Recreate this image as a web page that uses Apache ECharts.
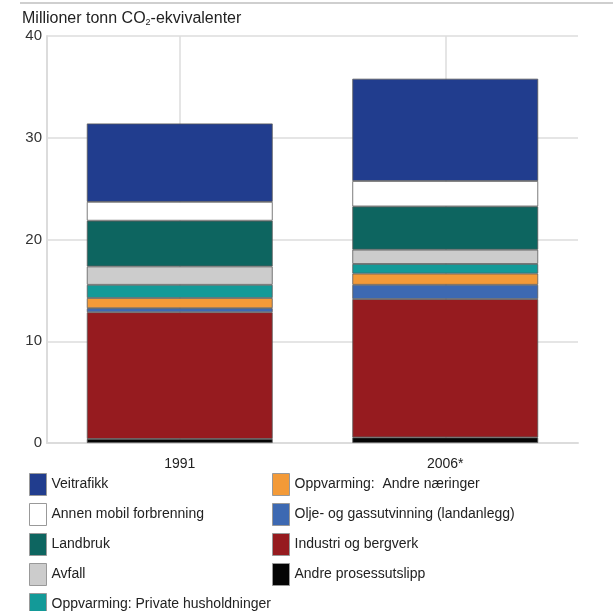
<!DOCTYPE html>
<html>
<head>
<meta charset="utf-8">
<script src="https://cdn.jsdelivr.net/npm/echarts@6/dist/echarts.min.js"></script>
<style>
  html, body { margin: 0; padding: 0; background: #fff; }
  #chart { width: 613px; height: 611px; }
</style>
</head>
<body>
<div id="chart"></div>
<script>
// kategorier og verdier (mill. tonn CO2-ekvivalenter), lest av figuren
var years = ['1991', '2006*'];
var yTicks = [0, 10, 20, 30, 40];

var andreProsess = [0.4, 0.55];
var industri = [12.45, 13.6];
var oljeGass = [0.4, 1.4];
var oppvAndre = [1.0, 1.1];
var oppvPrivate = [1.3, 0.95];
var avfall = [1.8, 1.4];
var landbruk = [4.5, 4.25];
var annenMobil = [1.85, 2.5];
var veitrafikk = [7.7, 10.05];

var legendLeft = ['Veitrafikk', 'Annen mobil forbrenning', 'Landbruk', 'Avfall', 'Oppvarming: Private husholdninger'];
var legendRight = ['Oppvarming:  Andre næringer', 'Olje- og gassutvinning (landanlegg)', 'Industri og bergverk', 'Andre prosessutslipp'];

var fontFam = '"Liberation Sans", Arial, sans-serif';

function bar(name, data, color) {
    return {
        name: name,
        type: 'bar',
        stack: 'total',
        barWidth: '70%',
        data: data,
        itemStyle: { color: color, borderColor: '#5a5a5a', borderWidth: 0.8 },
        emphasis: { disabled: true }
    };
}

var legendCommon = {
    orient: 'vertical',
    itemWidth: 17,
    itemHeight: 22,
    itemGap: 7,
    height: 220,
    icon: 'rect',
    selectedMode: false,
    textStyle: { fontFamily: fontFam, fontSize: 14, color: '#222' },
    itemStyle: { borderColor: '#999', borderWidth: 1 }
};

var option = {
    backgroundColor: '#fff',
    animation: false,
    title: {
        text: 'Millioner tonn CO{sub|2}-ekvivalenter',
        left: 17,
        top: 5,
        textStyle: {
            fontFamily: fontFam,
            fontSize: 16,
            fontWeight: 'normal',
            color: '#222',
            rich: {
                sub: { fontFamily: fontFam, fontSize: 9, color: '#222', verticalAlign: 'bottom', padding: [8, 0, 0, 0] }
            }
        }
    },
    graphic: [
        { type: 'line', shape: { x1: 20, y1: 3, x2: 613, y2: 3 }, style: { stroke: '#cfcfcf', lineWidth: 2 } }
    ],
    legend: [
        Object.assign({}, legendCommon, { data: legendLeft, left: 24, top: 468 }),
        Object.assign({}, legendCommon, { data: legendRight, left: 267, top: 468 })
    ],
    grid: { left: 47, right: 35, top: 36, bottom: 168, containLabel: false },
    xAxis: {
        type: 'category',
        data: years,
        axisLine: { show: true, lineStyle: { color: '#dcdcdc', width: 2 } },
        axisTick: { show: false },
        axisLabel: { fontFamily: fontFam, fontSize: 14, color: '#222', margin: 14 },
        splitLine: { show: true, alignWithLabel: true, lineStyle: { color: '#dcdcdc', width: 1.5 } }
    },
    yAxis: {
        type: 'value',
        min: yTicks[0],
        max: yTicks[yTicks.length - 1],
        interval: 10,
        axisLine: { show: true, lineStyle: { color: '#dcdcdc', width: 2 } },
        axisTick: { show: false },
        axisLabel: { fontFamily: fontFam, fontSize: 15, color: '#333', margin: 5 },
        splitLine: { show: true, lineStyle: { color: '#dcdcdc', width: 1.5 } }
    },
    series: [
        bar('Andre prosessutslipp', andreProsess, '#050505'),
        bar('Industri og bergverk', industri, '#961b1f'),
        bar('Olje- og gassutvinning (landanlegg)', oljeGass, '#3d69b2'),
        bar('Oppvarming:  Andre næringer', oppvAndre, '#f39a38'),
        bar('Oppvarming: Private husholdninger', oppvPrivate, '#139a98'),
        bar('Avfall', avfall, '#cccccc'),
        bar('Landbruk', landbruk, '#0d6560'),
        bar('Annen mobil forbrenning', annenMobil, '#ffffff'),
        bar('Veitrafikk', veitrafikk, '#213d8e')
    ]
};

var myChart = echarts.init(document.getElementById('chart'), null, { renderer: 'canvas' });
myChart.setOption(option, true);
</script>
</body>
</html>
